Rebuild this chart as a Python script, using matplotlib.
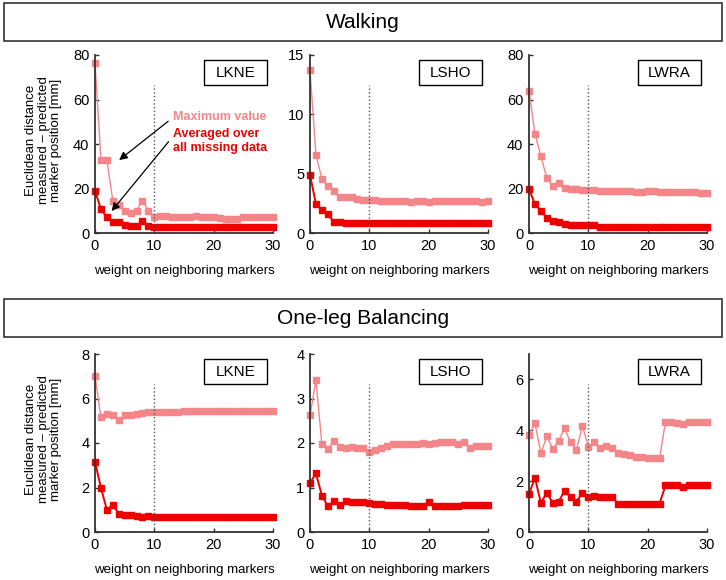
import numpy as np
import matplotlib
matplotlib.use('Agg')
import matplotlib.pyplot as plt
from matplotlib.patches import Rectangle

plt.rcParams['font.family'] = ['Liberation Sans', 'DejaVu Sans']

PINK = '#F4868A'
RED = '#EE0000'

weights = np.arange(31)

# walking
walk_lkne_max = [76.6, 32.8, 32.8, 14.5, 12.5, 10, 9.2, 10, 14.5, 10,
                 7, 7.5, 7.5, 7, 7, 7, 7, 7.5, 7, 7, 7, 6.8, 6.5, 6.5, 6.5, 7, 7, 7, 7, 7, 7]
walk_lkne_avg = [19, 10.7, 7, 4.8, 4.8, 3.7, 3.3, 3.3, 5.5, 3.3,
                 2.8, 2.8] + [2.5] * 19
walk_lsho_max = [13.7, 6.6, 4.55, 4.0, 3.57, 3.0, 3.0, 3.0, 2.9, 2.8,
                 2.78, 2.78, 2.67, 2.67, 2.67, 2.67, 2.67, 2.6, 2.67, 2.67, 2.6,
                 2.7, 2.7, 2.7, 2.7, 2.7, 2.7, 2.7, 2.7, 2.6, 2.67]
walk_lsho_avg = [4.9, 2.45, 1.94, 1.6, 0.95, 0.95] + [0.87] * 25
walk_lwra_max = [64, 44.6, 34.6, 24.6, 21, 22.4, 20.3, 20, 19.8, 19.4,
                 19.4, 19.4, 18.8, 18.8, 18.8, 18.8, 18.8, 18.8, 18.6, 18.3, 18.8,
                 18.8, 18.4, 18.3, 18.3, 18.3, 18.3, 18.3, 18.3, 18.2, 18.2]
walk_lwra_avg = [19.8, 13, 10, 6.8, 5.3, 4.8, 3.9, 3.5, 3.5, 3.5, 3.5, 3.5] + [2.9] * 19

# one-leg balancing
bal_lkne_max = [7.0, 5.15, 5.3, 5.25, 5.04, 5.25, 5.25, 5.3, 5.37, 5.4,
                5.4, 5.4, 5.4, 5.4, 5.4] + [5.45] * 16
bal_lkne_avg = [3.16, 1.98, 1.0, 1.22, 0.83, 0.78, 0.75, 0.72, 0.68, 0.74] + [0.68] * 21
bal_lsho_max = [2.62, 3.41, 1.98, 1.87, 2.05, 1.92, 1.89, 1.92, 1.89, 1.89,
                1.8, 1.84, 1.89, 1.93, 1.97, 1.97, 1.97, 1.97, 1.97, 2.0, 1.97,
                1.99, 2.02, 2.02, 2.02, 1.97, 2.02, 1.89, 1.94, 1.94, 1.94]
bal_lsho_avg = [1.1, 1.32, 0.82, 0.58, 0.69, 0.6, 0.69, 0.67, 0.67, 0.67,
                0.65, 0.63, 0.63, 0.6, 0.6, 0.6, 0.6, 0.58, 0.58, 0.58, 0.67,
                0.58, 0.58, 0.58, 0.58, 0.58, 0.61, 0.61, 0.61, 0.61, 0.61]
bal_lwra_max = [3.82, 4.28, 3.1, 3.76, 3.27, 3.59, 4.08, 3.53, 3.23, 4.17,
                3.36, 3.53, 3.3, 3.4, 3.32, 3.1, 3.06, 3.01, 2.95, 2.95, 2.9,
                2.9, 2.9, 4.34, 4.34, 4.3, 4.25, 4.34, 4.34, 4.34, 4.34]
bal_lwra_avg = [1.5, 2.13, 1.15, 1.54, 1.15, 1.19, 1.63, 1.37, 1.19, 1.54,
                1.37, 1.41, 1.37, 1.37, 1.37] + [1.12] * 8 + [1.83, 1.83, 1.83, 1.78, 1.83, 1.83, 1.83, 1.83]

markers = ['LKNE', 'LSHO', 'LWRA']
panels = [
    # (row, col, max, avg, ylim, yticks)
    (0, 0, walk_lkne_max, walk_lkne_avg, 80, [0, 20, 40, 60, 80]),
    (0, 1, walk_lsho_max, walk_lsho_avg, 15, [0, 5, 10, 15]),
    (0, 2, walk_lwra_max, walk_lwra_avg, 80, [0, 20, 40, 60, 80]),
    (1, 0, bal_lkne_max, bal_lkne_avg, 8, [0, 2, 4, 6, 8]),
    (1, 1, bal_lsho_max, bal_lsho_avg, 4, [0, 1, 2, 3, 4]),
    (1, 2, bal_lwra_max, bal_lwra_avg, 7, [0, 2, 4, 6]),
]

W, H = 726, 580
fig = plt.figure(figsize=(W / 100, H / 100), dpi=100)

lefts = [95, 310, 529]
tops = [55, 354]
ax_w, ax_h = 178, 178

axes = {}
for row, col, ymax_vals, yavg_vals, ylim, yt in panels:
    l = lefts[col] / W
    b = 1 - (tops[row] + ax_h) / H
    ax = fig.add_axes([l, b, ax_w / W, ax_h / H])
    axes[(row, col)] = ax
    ax.plot(weights, ymax_vals, '-s', color=PINK, lw=1.0, ms=4, mec=PINK, clip_on=False)
    ax.plot(weights, yavg_vals, '-s', color=RED, lw=1.4, ms=4, mec=RED, clip_on=False)
    ax.axvline(10, ymax=0.83, color='#555555', ls=':', lw=1)
    ax.set_xlim(0, 30)
    ax.set_ylim(0, ylim)
    ax.set_xticks([0, 10, 20, 30])
    ax.set_yticks(yt)
    for s in ['top', 'right']:
        ax.spines[s].set_visible(False)
    for s in ['left', 'bottom']:
        ax.spines[s].set_color('#333333')
        ax.spines[s].set_linewidth(1.3)
    ax.tick_params(direction='in', length=3, width=1, colors='#333333',
                   labelsize=10.5, labelcolor='black', pad=4)
    ax.set_xlabel('weight on neighboring markers', fontsize=9.5, labelpad=9)
    # marker name box
    ax.add_patch(Rectangle((0.615, 0.83), 0.35, 0.14, transform=ax.transAxes,
                           fc='white', ec='black', lw=1, clip_on=False, zorder=5))
    ax.text(0.79, 0.9, markers[col], transform=ax.transAxes, ha='center', va='center',
            fontsize=11, zorder=6)
    if col == 0:
        ax.set_ylabel('Euclidean distance\nmeasured \u2013 predicted\nmarker position [mm]',
                      fontsize=9.5, linespacing=1.05)
        ax.yaxis.set_label_coords(-0.185, 0.52)

# annotation in walking LKNE
ax = axes[(0, 0)]
ax.text(13.2, 52, 'Maximum value', color=PINK, fontsize=9, fontweight='bold', va='center')
ax.text(13.2, 44.7, 'Averaged over', color=RED, fontsize=9, fontweight='bold', va='center')
ax.text(13.2, 38, 'all missing data', color=RED, fontsize=9, fontweight='bold', va='center')
ax.annotate('', xy=(3.7, 32), xytext=(12.7, 51),
            arrowprops=dict(arrowstyle='-|>', color='black', lw=0.9, mutation_scale=12))
ax.annotate('', xy=(2.5, 8.9), xytext=(12.7, 42),
            arrowprops=dict(arrowstyle='-|>', color='black', lw=0.9, mutation_scale=12))

# section header boxes
for top, bottom, title in [(3, 41, 'Walking'), (299, 337, 'One-leg Balancing')]:
    fig.patches.append(Rectangle((4 / W, 1 - bottom / H), 718 / W, (bottom - top) / H,
                                 transform=fig.transFigure, fc='white', ec='#333333', lw=1.2))
    fig.text(0.5, 1 - (top + bottom) / 2 / H, title, ha='center', va='center', fontsize=15)

fig.savefig('out.png', dpi=100)
